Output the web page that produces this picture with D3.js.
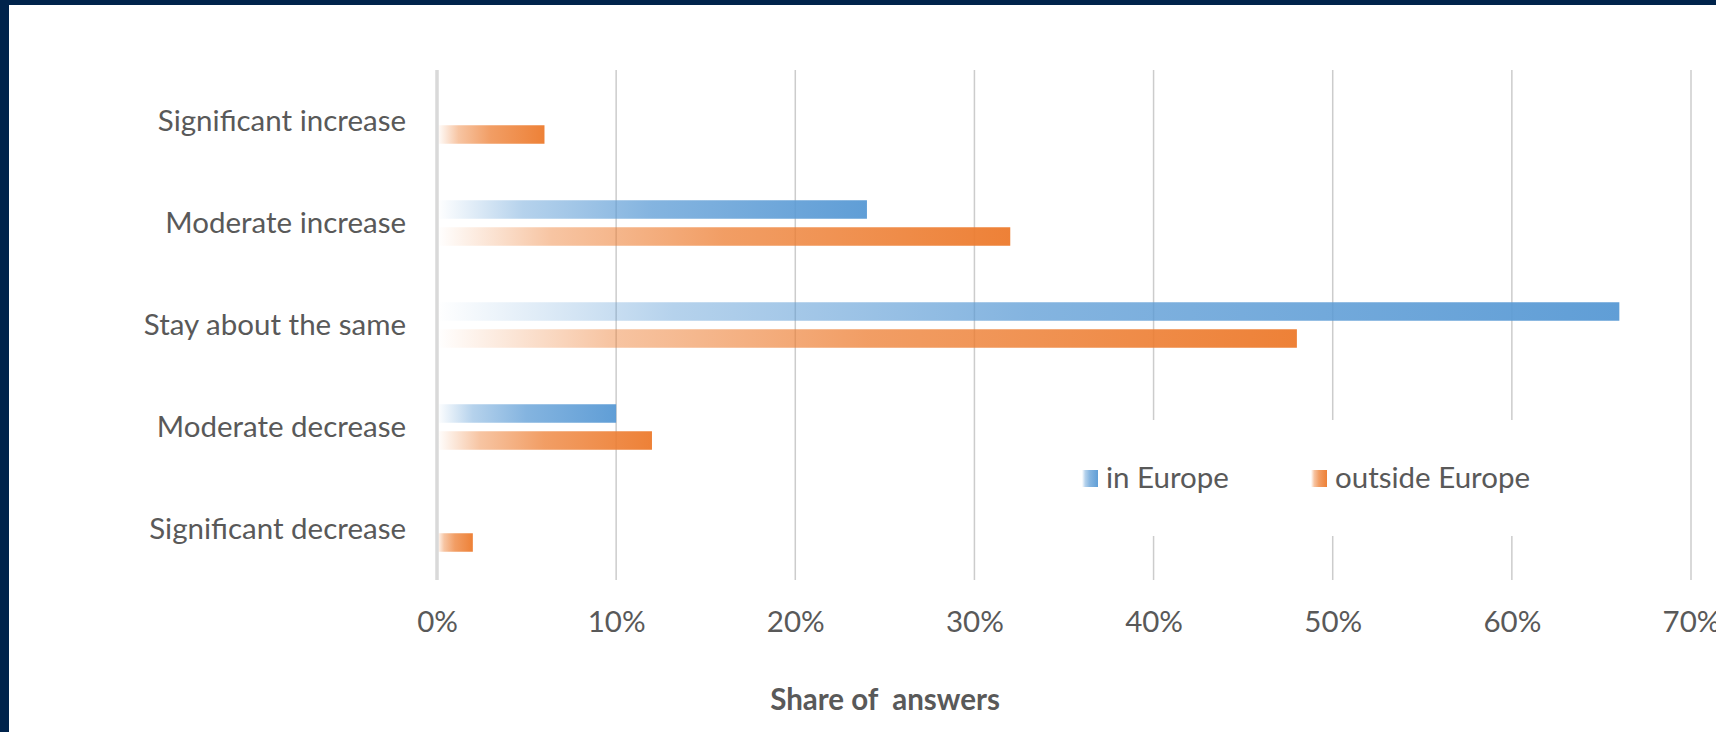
<!DOCTYPE html>
<html lang="en">
<head>
  <meta charset="UTF-8">
  <title>Share of answers</title>
  <script src="https://d3js.org/d3.v7.min.js"></script>
  <style>
    body { margin: 0; overflow: hidden; background: #fff; }
    svg { display: block; }
    text { font-family: Lato, "Open Sans", sans-serif; fill: #595959; }
  </style>
</head>
<body>
  <svg id="chart" width="1716" height="732"></svg>

  <script>
    // data
    const categories = ["Significant increase", "Moderate increase", "Stay about the same", "Moderate decrease", "Significant decrease"];
    const seriesNames = ["in Europe", "outside Europe"];
    const inEurope = [0, 0.24, 0.66, 0.10, 0];
    const outsideEurope = [0.06, 0.32, 0.48, 0.12, 0.02];
    const xTicks = [0, 0.1, 0.2, 0.3, 0.4, 0.5, 0.6, 0.7];
    const colors = ["#5b9bd5", "#ed7d31"];

    const W = 1716, H = 732;
    const fontSize = "29.5px";
    const svg = d3.select("#chart");

    // dark frame on top and left
    svg.append("rect").attr("width", W).attr("height", H).attr("fill", "#00234b");
    svg.append("rect").attr("x", 9).attr("y", 5).attr("width", W - 9).attr("height", H - 5).attr("fill", "#fff");

    const x = d3.scaleLinear().domain([0, 0.7]).range([437, 1691]);
    const y = d3.scaleBand().domain(categories).range([70, 580]).padding(0);
    const c = y.bandwidth() / 2;
    const sub = d3.scaleBand().domain(seriesNames).range([c - 22.75, c + 22.75]).paddingInner(0.315);

    // gradients: fade from white on the left to the full colour
    const defs = svg.append("defs");
    seriesNames.forEach((s, i) => {
      const g = defs.append("linearGradient").attr("id", "grad" + i)
        .attr("x1", 0).attr("x2", 1).attr("y1", 0).attr("y2", 0);
      [[0, 0], [0.2, 0.45], [0.5, 0.75], [1, 0.97]].forEach(([o, a]) => {
        g.append("stop").attr("offset", o).attr("stop-color", colors[i]).attr("stop-opacity", a);
      });
    });

    // gridlines
    svg.append("g")
      .selectAll("line")
      .data(xTicks.slice(1))
      .join("line")
      .attr("x1", d => x(d)).attr("x2", d => x(d))
      .attr("y1", 70).attr("y2", 580)
      .attr("stroke", "#cccccc").attr("stroke-width", 1.5);

    // bars
    const rows = categories.map((cat, i) => ({ cat, values: [inEurope[i], outsideEurope[i]] }));
    const group = svg.append("g").selectAll("g")
      .data(rows)
      .join("g")
      .attr("transform", d => `translate(0,${y(d.cat)})`);

    group.selectAll("rect")
      .data(d => d.values.map((v, i) => ({ v, i, s: seriesNames[i] })).filter(d => d.v > 0))
      .join("rect")
      .attr("x", x(0))
      .attr("y", d => sub(d.s))
      .attr("width", d => x(d.v) - x(0))
      .attr("height", sub.bandwidth())
      .attr("fill", d => `url(#grad${d.i})`);

    // zero axis line
    svg.append("line")
      .attr("x1", x(0)).attr("x2", x(0)).attr("y1", 70).attr("y2", 580)
      .attr("stroke", "#d9d9d9").attr("stroke-width", 3.5);

    // category labels
    svg.append("g")
      .selectAll("text")
      .data(categories)
      .join("text")
      .attr("x", 406)
      .attr("y", d => y(d) + c + 10)
      .attr("text-anchor", "end")
      .style("font-size", fontSize)
      .text(d => d);

    // x tick labels
    const xAxis = svg.append("g")
      .attr("transform", "translate(0,611)")
      .call(d3.axisBottom(x).tickValues(xTicks).tickFormat(d3.format(".0%")).tickSize(0).tickPadding(0));
    xAxis.select(".domain").remove();
    xAxis.selectAll("text")
      .attr("dy", "0.72em")
      .style("font-family", "Lato, 'Open Sans', sans-serif")
      .style("font-size", fontSize)
      .attr("fill", "#595959");

    // axis title
    svg.append("text")
      .attr("x", 885)
      .attr("y", 710)
      .attr("text-anchor", "middle")
      .style("font-size", fontSize)
      .style("font-weight", "bold")
      .style("white-space", "pre")
      .text("Share of  answers");

    // legend with white background
    const legend = svg.append("g");
    legend.append("rect").attr("x", 1062).attr("y", 420).attr("width", 480).attr("height", 116).attr("fill", "#fff");
    const legendX = [1082, 1311];
    seriesNames.forEach((s, i) => {
      legend.append("rect").attr("x", legendX[i]).attr("y", 470).attr("width", 16).attr("height", 17)
        .attr("fill", `url(#grad${i})`);
      legend.append("text").attr("x", legendX[i] + 24).attr("y", 488)
        .style("font-size", fontSize).text(s);
    });
  </script>
</body>
</html>
